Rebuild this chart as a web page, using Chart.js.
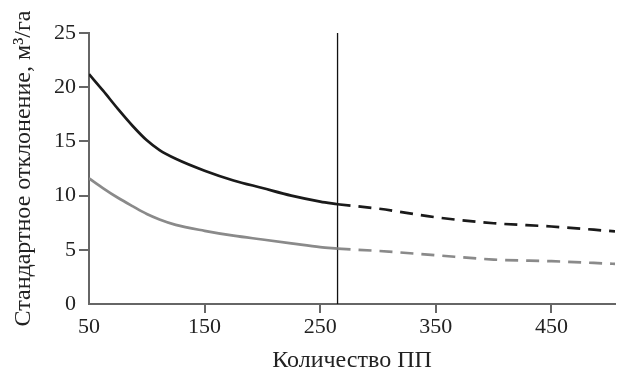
<!DOCTYPE html>
<html>
<head>
<meta charset="utf-8">
<script src="https://cdn.jsdelivr.net/npm/chart.js@4"></script>
<style>
html,body{margin:0;padding:0;background:#fff;}
#wrap{width:623px;height:379px;}
</style>
</head>
<body>
<div id="wrap"><canvas id="c" width="623" height="379"></canvas></div>
<script>
// data
const xSolid=[50,62,75,88,100,111,125,150,175,200,225,250,265];
const blackSolid=[21.2,19.7,18.0,16.4,15.1,14.2,13.4,12.3,11.4,10.7,10.0,9.45,9.2];
const graySolid=[11.6,10.7,9.8,9.0,8.3,7.8,7.3,6.75,6.3,5.95,5.6,5.25,5.1];
const xDashed=[265,300,350,400,450,505];
const blackDashed=[9.2,8.8,8.0,7.45,7.15,6.7];
const grayDashed=[5.1,4.9,4.5,4.1,3.95,3.7];
const xTicks=[50,150,250,350,450];
const yTicks=[0,5,10,15,20,25];
const splitX=265;

const axisCol='#666';
const txtCol='#222';
const fnt='"Liberation Serif","DejaVu Serif",serif';

function pts(xs,ys){
  var out=[];
  for(var i=0;i<xs.length;i++) out.push({x:xs[i],y:ys[i]});
  return out;
}
function line(data,col,dash){
  return {data:data,borderColor:col,borderWidth:2.7,borderDash:dash,pointRadius:0,
    cubicInterpolationMode:'monotone',fill:false};
}

new Chart(document.getElementById('c'),{
  type:'line',
  data:{datasets:[
    line(pts(xSolid,blackSolid),'#1a1a1a',[]),
    line(pts(xSolid,graySolid),'#8a8a8a',[]),
    line(pts(xDashed,blackDashed),'#1a1a1a',[13,8]),
    line(pts(xDashed,grayDashed),'#8a8a8a',[13,8]),
    {data:[{x:splitX,y:0},{x:splitX,y:25}],borderColor:'#111',borderWidth:1.3,pointRadius:0,fill:false}
  ]},
  options:{
    responsive:false,animation:false,
    layout:{padding:{left:0,right:8,top:33,bottom:0}},
    plugins:{legend:{display:false},tooltip:{enabled:false}},
    scales:{
      x:{type:'linear',min:50,max:505,
        afterBuildTicks:function(s){s.ticks=xTicks.map(function(v){return {value:v};});},
        afterFit:function(s){s.height=75;},
        grid:{drawOnChartArea:false,tickLength:9,lineWidth:2,
          color:function(c){return c.tick&&c.tick.value===50?'rgba(0,0,0,0)':axisCol;}},
        border:{color:axisCol,width:2},
        ticks:{color:txtCol,font:{family:fnt,size:22},padding:1,maxRotation:0},
        title:{display:true,text:'Количество ПП',color:txtCol,font:{family:fnt,size:24},padding:{top:10}}
      },
      y:{min:0,max:25,
        afterBuildTicks:function(s){s.ticks=yTicks.map(function(v){return {value:v};});},
        afterFit:function(s){s.width=89;},
        grid:{drawOnChartArea:false,tickLength:10,lineWidth:2,
          color:function(c){return c.tick&&c.tick.value===0?'rgba(0,0,0,0)':axisCol;}},
        border:{color:axisCol,width:2},
        ticks:{color:txtCol,font:{family:fnt,size:22},padding:3},
        title:{display:true,text:'Стандартное отклонение, м³/га',color:txtCol,font:{family:fnt,size:24},padding:{top:9,bottom:2}}
      }
    }
  }
});
</script>
</body>
</html>
